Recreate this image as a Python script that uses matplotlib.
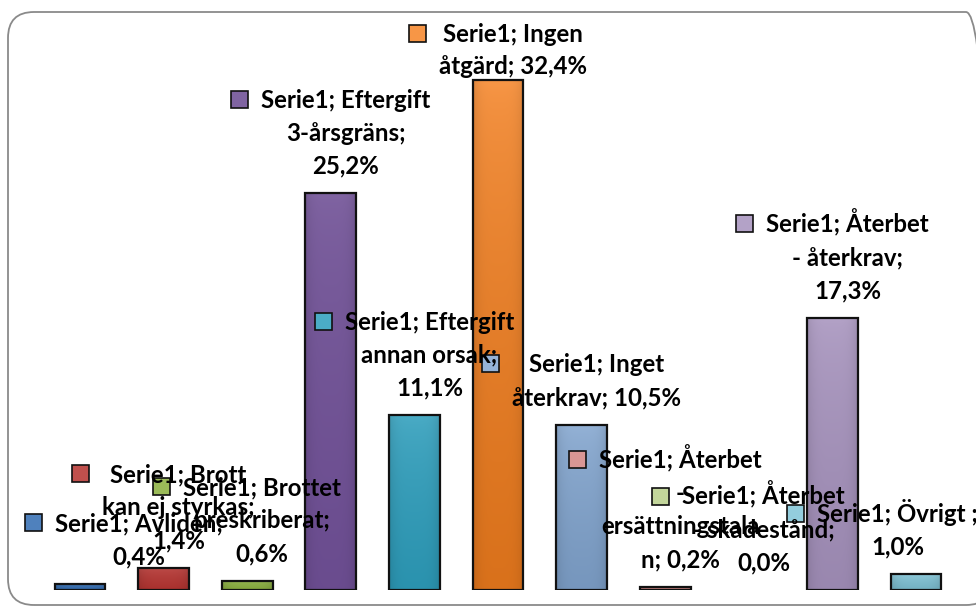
import matplotlib
matplotlib.use("Agg")
import matplotlib.pyplot as plt
import numpy as np
import matplotlib.colors as mcolors
from matplotlib.patches import Rectangle, FancyBboxPatch
from matplotlib.transforms import IdentityTransform

# ---------------- data ----------------
series_name = "Serie1"
categories = ["Avliden", "Brott kan ej styrkas", "Brottet preskriberat",
              "Eftergift 3-årsgräns", "Eftergift annan orsak", "Ingen åtgärd",
              "Inget återkrav", "Återbet - ersättningstalan", "Återbet - skadestånd",
              "Återbet - återkrav", "Övrigt "]
values = [0.4, 1.4, 0.6, 25.2, 11.1, 32.4, 10.5, 0.2, 0.0, 17.3, 1.0]
# data labels as wrapped in the original
label_lines = [
    ["Serie1; Avliden;", "0,4%"],
    ["Serie1; Brott", "kan ej styrkas;", "1,4%"],
    ["Serie1; Brottet", "preskriberat;", "0,6%"],
    ["Serie1; Eftergift", "3-årsgräns;", "25,2%"],
    ["Serie1; Eftergift", "annan orsak;", "11,1%"],
    ["Serie1; Ingen", "åtgärd; 32,4%"],
    ["Serie1; Inget", "återkrav; 10,5%"],
    ["Serie1; Återbet", "-", "ersättningstala", "n; 0,2%"],
    ["Serie1; Återbet", "- skadestånd;", "0,0%"],
    ["Serie1; Återbet", "- återkrav;", "17,3%"],
    ["Serie1; Övrigt ;", "1,0%"],
]
colors = ["#4F81BD", "#C0504D", "#9BBB59", "#8064A2", "#4BACC6", "#F79646",
          "#95B3D7", "#D99694", "#C3D69B", "#B3A2C7", "#93CDDD"]

# ---------------- layout ----------------
W, H, DPI = 976, 614, 100
fig = plt.figure(figsize=(W / DPI, H / DPI), dpi=DPI)
fig.patch.set_facecolor("white")

base_px = 590.0        # baseline, pixels from top
ppu = 15.74            # pixels per percent
ax_left, ax_right = 38.2, 957.8
ymax = 36.0
ax = fig.add_axes([ax_left / W, (H - base_px) / H,
                   (ax_right - ax_left) / W, ymax * ppu / H])
ax.set_xlim(-0.5, len(values) - 0.5)
ax.set_ylim(0, ymax)
ax.axis("off")

x = np.arange(len(values))
bw = 0.61
bars = ax.bar(x, values, width=bw, color=colors, edgecolor="none", zorder=2)


def shade(c, s_mul, v_mul):
    h, s, v = mcolors.rgb_to_hsv(np.array(mcolors.to_rgb(c)))
    return mcolors.hsv_to_rgb([h, min(1, s * s_mul), min(1, v * v_mul)])


# gradient / bevel fill
for b, c, v in zip(bars, colors, values):
    if v <= 0:
        continue
    top = shade(c, 1.0, 1.0)
    bot = shade(c, 1.22, 0.88)
    n = 64
    t = np.linspace(0, 1, n)[:, None] ** 0.6
    grad = top * (1 - t) + bot * t
    m = 32
    s = np.linspace(-1, 1, m)
    side = 1 - 0.10 * np.abs(s) ** 4
    img = np.clip(grad[:, None, :] * side[None, :, None], 0, 1)
    x0 = b.get_x()
    im = ax.imshow(img, extent=[x0, x0 + bw, 0, v], aspect="auto",
                   origin="upper", zorder=2.5, interpolation="bilinear")
    im.set_clip_path(b)
    ax.add_patch(Rectangle((x0, 0), bw, v, facecolor="none",
                           edgecolor="#111111", linewidth=1.6, zorder=3))

ax.set_xlim(-0.5, len(values) - 0.5)
ax.set_ylim(0, ymax)

# ---------------- data labels ----------------
font = dict(family=["Lato", "DejaVu Sans"], weight="bold", size=17.3)
pitch = 33.0
key = 17.0
gap = 13.0
cap_half = 8.5

texts = []
for lines in label_lines:
    ts = [fig.text(0, 0, ln, ha="center", va="baseline", color="black",
                   transform=IdentityTransform(), zorder=5, **font) for ln in lines]
    texts.append(ts)

fig.canvas.draw()
renderer = fig.canvas.get_renderer()

for i, (ts, v, c) in enumerate(zip(texts, values, colors)):
    widths = [t.get_window_extent(renderer).width for t in ts]
    tw = max(widths)
    bx, by = ax.transData.transform((x[i], v))
    n = len(ts)
    first_y = by + 28 + pitch * (n - 1)
    first_y = min(first_y, H - 33)
    block_w = key + gap + tw
    left = bx - block_w / 2
    left = max(left, 25)
    if left + block_w > 978:
        left = 978 - block_w
    tcx = left + key + gap + tw / 2
    for k, t in enumerate(ts):
        cy = first_y - pitch * k
        t.set_position((tcx, cy - cap_half))
    fig.add_artist(Rectangle((left, first_y - key / 2), key, key,
                             facecolor=c, edgecolor="#111111", linewidth=1.2,
                             transform=IdentityTransform(), zorder=4))

# chart border (right side runs off the canvas, as in the original)
fig.add_artist(FancyBboxPatch((8, 9), 984, 593,
                              boxstyle="round,pad=0,rounding_size=26",
                              facecolor="none", edgecolor="#8a8a8a", linewidth=1.3,
                              transform=IdentityTransform(), zorder=1))

fig.savefig("out.png", dpi=DPI)
